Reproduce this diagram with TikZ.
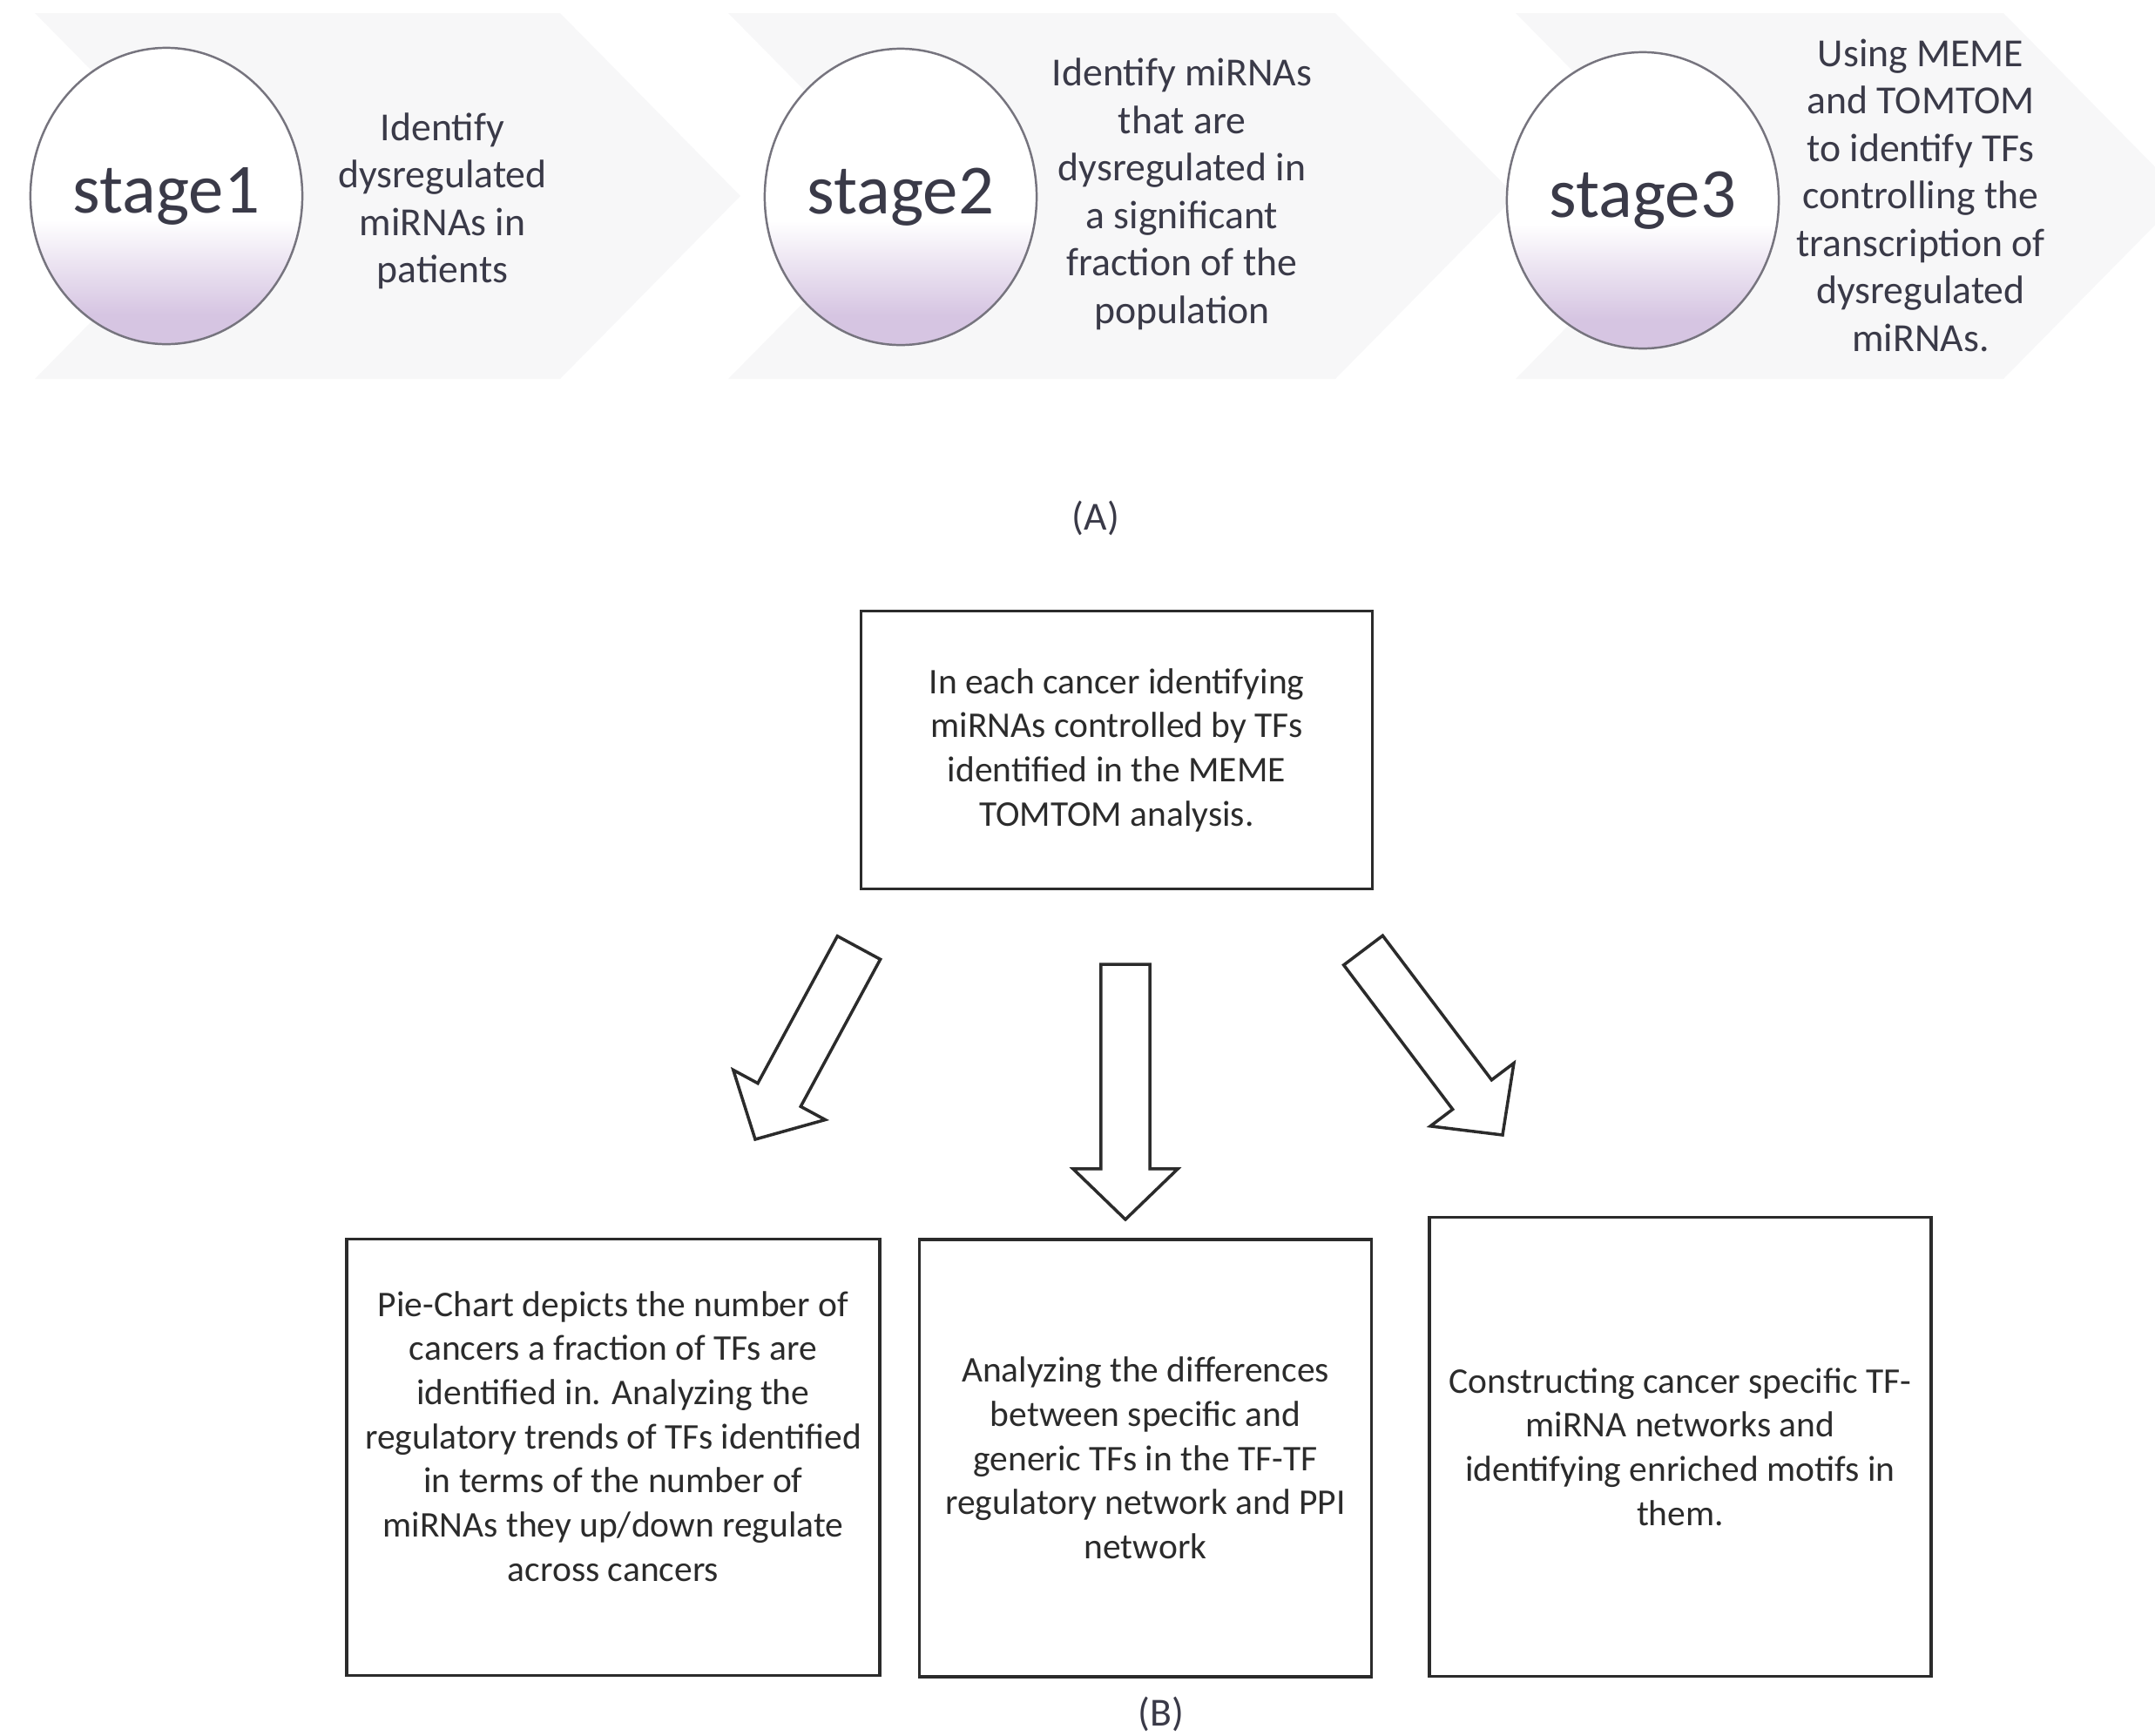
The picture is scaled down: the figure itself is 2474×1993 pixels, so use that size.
\documentclass[tikz,border=0pt]{standalone}
\usepackage{fontspec}
\setmainfont{Carlito}
\usetikzlibrary{calc,positioning,shapes.geometric}
\definecolor{flowInk}{HTML}{2B2B2B}
\definecolor{stageInk}{HTML}{3A3A48}
\definecolor{stageLine}{HTML}{76747E}
\definecolor{stageLilac}{HTML}{D6C5E2}
\definecolor{stageBand}{HTML}{F7F7F8}
\pgfdeclareverticalshading{stageshade}{100bp}{color(0bp)=(stageLilac); color(30bp)=(stageLilac); color(39bp)=(stageLilac!45!white); color(46bp)=(white); color(100bp)=(white)}
\tikzset{
  every picture/.style={text=flowInk},
  stage band/.style={fill=stageBand},
  stage disc/.style={ellipse, draw=stageLine, line width=0.7pt, shade, shading=stageshade,
    minimum width=3.12cm, minimum height=3.40cm, inner sep=0pt, text=stageInk,
    font=\fontsize{23}{26}\selectfont},
  stage note/.style={align=center, text=stageInk, font=\fontsize{13}{15.5}\selectfont},
  panel label/.style={text=stageInk, font=\fontsize{13}{15.5}\selectfont},
  flow box/.style={draw=flowInk, line width=1pt, align=center, inner sep=0pt,
    font=\fontsize{11.8}{14.4}\selectfont},
  flow text/.style={align=center, inner sep=0pt, font=\fontsize{11.8}{14.4}\selectfont},
  flow arrow/.style={draw=flowInk, fill=white, line width=1pt, line join=miter}
}
\newcommand{\arrshaft}{0.28cm}
\newcommand{\arrhead}{0.6cm}
\newcommand{\arrlen}{0.58cm}
\newcommand{\blockarrow}[2]{%
  \coordinate (#1-base) at ($(#2)!\arrlen!(#1)$);
  \draw[flow arrow] ($(#1)!\arrshaft!90:(#2)$) -- ($(#1-base)!\arrshaft!90:(#2)$)
    -- ($(#1-base)!\arrhead!90:(#2)$) -- (#2) -- ($(#1-base)!\arrhead!-90:(#2)$)
    -- ($(#1-base)!\arrshaft!-90:(#2)$) -- ($(#1)!\arrshaft!-90:(#2)$) -- cycle;}

\begin{document}
\begin{tikzpicture}[x=0.01cm,y=-0.01cm]
  \useasboundingbox (0,0) rectangle (2474,1993);
  % (A) stages
  \fill[stage band] (40,15) -- (643,15) -- (850,225) -- (643,435) -- (40,435) -- (247,225) -- cycle;
  \fill[stage band] (836,15) -- (1533,15) -- (1740,225) -- (1533,435) -- (836,435) -- (1043,225) -- cycle;
  \fill[stage band] (1740,15) -- (2300,15) -- (2507,225) -- (2300,435) -- (1740,435) -- (1947,225) -- cycle;
  \node[stage disc] (s1) at (191,225) {stage1};
  \node[stage disc] (s2) at (1034,226) {stage2};
  \node[stage disc] (s3) at (1886,230) {stage3};
  \node[stage note] (n1) at (508,231) {Identify\\dysregulated\\miRNAs in\\patients};
  \node[stage note] (n2) at (1357,223) {Identify miRNAs\\that are\\dysregulated in\\a significant\\fraction of the\\population};
  \node[stage note] (n3) at (2205,224) {Using MEME\\and TOMTOM\\to identify TFs\\controlling the\\transcription of\\dysregulated\\miRNAs.};
  \node[panel label] (labA) at (1258,595) {(A)};

  % (B) flow
  \node[flow box, minimum width=5.87cm, minimum height=3.19cm] (top) at (1282,861)
    {In each cancer identifying\\miRNAs controlled by TFs\\identified in the MEME\\TOMTOM analysis.};
  \node[flow box, minimum width=6.12cm, minimum height=5.01cm] (left) at (704,1673) {};
  \node[flow text] (leftText) at ([yshift=0.24cm]left.center)
    {Pie-Chart depicts the number of\\cancers a fraction of TFs are\\identified in. Analyzing the\\regulatory trends of TFs identified\\in terms of the number of\\miRNAs they up/down regulate\\across cancers};
  \node[flow box, minimum width=5.19cm, minimum height=5.02cm] (mid) at (1315,1674)
    {Analyzing the differences\\between specific and\\generic TFs in the TF-TF\\regulatory network and PPI\\network};
  \node[flow box, minimum width=5.76cm, minimum height=5.27cm] (right) at (1929,1661)
    {Constructing cancer specific TF-\\miRNA networks and\\identifying enriched motifs in\\them.};
  \node[panel label] (labB) at (1333,1968) {(B)};

  \coordinate (aL) at (986,1088); \coordinate (tL) at (867,1308);
  \coordinate (aM) at (1292,1107); \coordinate (tM) at (1292,1400);
  \coordinate (aR) at (1565,1091); \coordinate (tR) at (1725,1303);
  \blockarrow{aL}{tL}
  \blockarrow{aM}{tM}
  \blockarrow{aR}{tR}
\end{tikzpicture}
\end{document}
